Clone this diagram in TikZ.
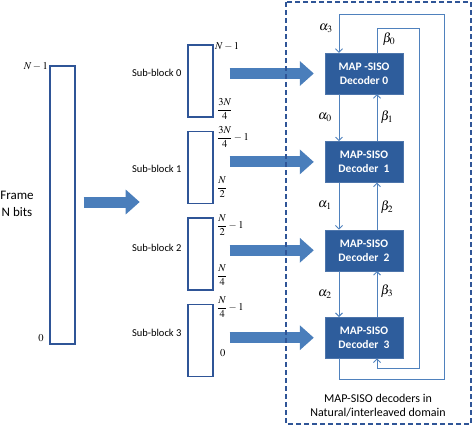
\documentclass[tikz,border=0pt]{standalone}
\usepackage{mathptmx}
\usepackage[no-math]{fontspec}
\setmainfont{Carlito}
\usetikzlibrary{arrows.meta,positioning}
\definecolor{decblue}{HTML}{2E5D9C}
\definecolor{arrblue}{HTML}{4A7EBB}
\definecolor{edgeblue}{HTML}{2F5597}
\definecolor{lineblue}{HTML}{4F81BD}

\begin{document}
\begin{tikzpicture}[x=1pt, y=-1pt, font=\fontsize{10.5}{12}\selectfont,
  bitrow/.style={draw=edgeblue, line width=1.4pt, fill=white, minimum width=25pt, inner sep=0pt},
  decoder/.style={fill=decblue, draw=decblue!85!white, text=white, font=\fontsize{11.5}{14}\selectfont\bfseries,
    minimum width=78pt, minimum height=41pt, align=center, inner sep=1pt},
  blockarrow/.style={draw=arrblue, line width=11pt, -{Triangle[width=24pt,length=14pt]}},
  link/.style={draw=lineblue, line width=0.9pt, -{Straight Barb[length=3.5pt,width=7pt]}},
  idx/.style={font=\fontsize{10.5}{12}\selectfont, anchor=west, inner sep=1pt},
  greek/.style={font=\fontsize{13}{14}\selectfont, inner sep=0pt}]
  \useasboundingbox (0,0) rectangle (473,426);

  % whole frame
  \node [bitrow, minimum height=278pt] (frame) at (62.5,205) {};
  \node [idx, anchor=east] (ftop) at (49,66) {$N-1$};
  \node [idx, anchor=center] (fbot) at (41,338) {$0$};
  \node [align=center, font=\fontsize{13}{17}\selectfont] (ftext) at (17,204) {Frame\\N bits};
  \draw [blockarrow, shorten <=8pt] ([yshift=3pt]frame.east) -- ++(64,0);

  % sub-blocks
  \node [bitrow, minimum height=72pt] (sb0) at (200.5,81) {};
  \node [bitrow, minimum height=72pt, below=13pt of sb0] (sb1) {};
  \node [bitrow, minimum height=72pt, below=13pt of sb1] (sb2) {};
  \node [bitrow, minimum height=72pt, below=13pt of sb2] (sb3) {};
  \node [anchor=east] (lab0) at (185,73) {Sub-block 0};
  \node [anchor=east] (lab1) at (185,169) {Sub-block 1};
  \node [anchor=east] (lab2) at (185,248) {Sub-block 2};
  \node [anchor=east] (lab3) at (185,333) {Sub-block 3};
  \node [idx] (t0) at (214,46) {$N-1$};
  \node [idx] (b0) at (216,109) {$\displaystyle\frac{3N}{4}$};
  \node [idx] (t1) at (216,137) {$\displaystyle\frac{3N}{4}-1$};
  \node [idx] (b1) at (216,187) {$\displaystyle\frac{N}{2}$};
  \node [idx] (t2) at (216,225) {$\displaystyle\frac{N}{2}-1$};
  \node [idx] (b2) at (216,275) {$\displaystyle\frac{N}{4}$};
  \node [idx] (t3) at (216,307) {$\displaystyle\frac{N}{4}-1$};
  \node [idx] (b3) at (219,353) {$0$};

  % decoders
  \node [decoder] (dec0) at (364,73.5) {MAP -SISO\\Decoder 0};
  \node [decoder, below=47pt of dec0] (dec1) {MAP-SISO\\Decoder\ \ 1};
  \node [decoder, below=47pt of dec1] (dec2) {MAP-SISO\\Decoder\ \ 2};
  \node [decoder, below=46pt of dec2] (dec3) {MAP-SISO\\Decoder\ \ 3};

  \foreach \i in {0,...,3}
    \draw [blockarrow, shorten <=16pt, shorten >=11pt] (sb\i.east |- dec\i.west) -- (dec\i.west);

  \foreach \i/\j in {0/1,1/2,2/3} {
    \draw [link] ([xshift=-25pt]dec\i.south) -- ([xshift=-25pt]dec\j.north);
    \draw [link] ([xshift=13pt]dec\j.north) -- ([xshift=13pt]dec\i.south);
  }
  \coordinate (alphaturn) at (444,14);
  \coordinate (betaturn) at (419,368);
  \draw [link] ([xshift=-25pt]dec3.south) -- ++(0,21) -| (alphaturn) -| ([xshift=-25pt]dec0.north);
  \draw [link] ([xshift=13pt]dec0.north) -- ++(0,-24) -| (betaturn) -| ([xshift=13pt]dec3.south);

  \node [greek] (a3) at (326,28) {$\alpha_3$};
  \node [greek] (be0) at (389,39) {$\beta_0$};
  \node [greek] (a0) at (325,117) {$\alpha_0$};
  \node [greek] (be1) at (387,117) {$\beta_1$};
  \node [greek] (a1) at (325,205) {$\alpha_1$};
  \node [greek] (be2) at (387,207) {$\beta_2$};
  \node [greek] (a2) at (325,294) {$\alpha_2$};
  \node [greek] (be3) at (387,291) {$\beta_3$};

  % decoder group
  \draw [edgeblue, line width=1.5pt, dash pattern=on 5pt off 3pt] (286,2) rectangle (471,424);
  \node [align=center, font=\fontsize{12}{14}\selectfont] (grp) at (378,406)
    {MAP-SISO decoders in\\Natural/interleaved domain};
\end{tikzpicture}
\end{document}
